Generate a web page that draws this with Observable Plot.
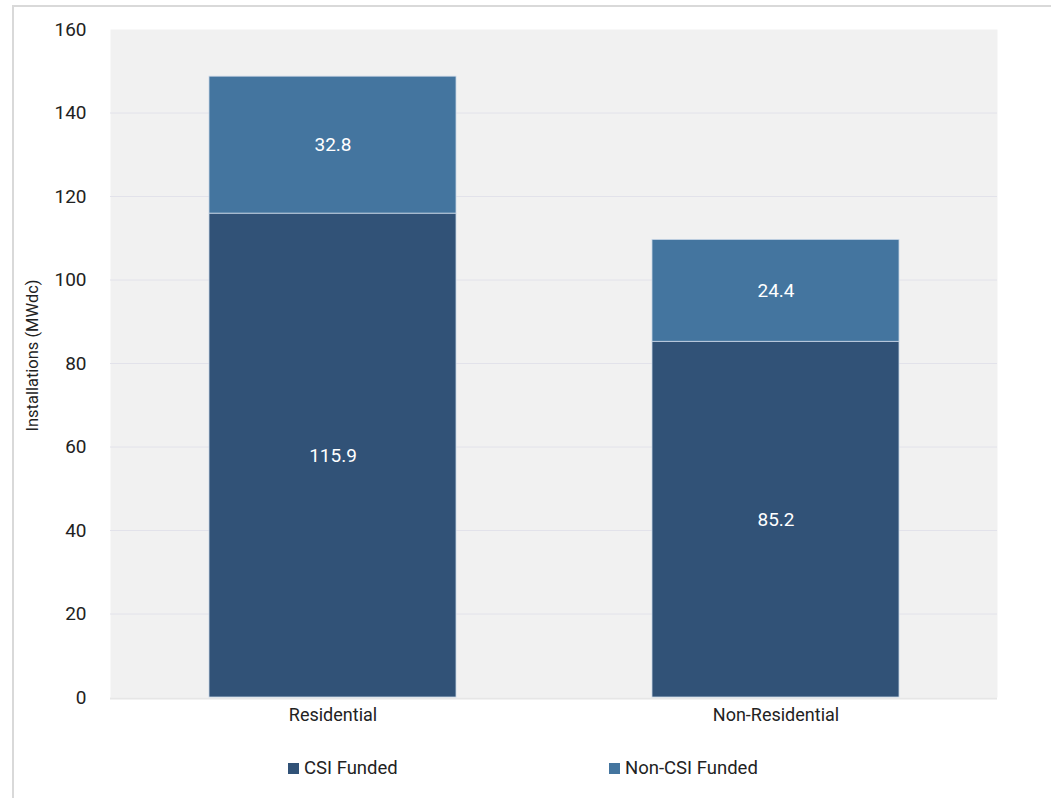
<!DOCTYPE html>
<html>
<head>
<meta charset="utf-8">
<script src="https://cdn.jsdelivr.net/npm/d3@7"></script>
<script src="https://cdn.jsdelivr.net/npm/@observablehq/plot@0.6"></script>
<style>
  html, body { margin: 0; padding: 0; background: #fff; }
  body { width: 1051px; height: 798px; overflow: hidden; position: relative;
         font-family: Roboto, "Liberation Sans", sans-serif; }
  #frame { position: absolute; left: 12px; top: 5px; width: 1100px; height: 900px;
           border-left: 2px solid #d9d9d9; border-top: 2px solid #d9d9d9; }
  #chart { position: absolute; left: 0; top: 0; }
  #legend { position: absolute; top: 757px; left: 0; width: 1051px; height: 24px; }
  .item { position: absolute; display: flex; align-items: center; font-size: 18.5px; color: #222; }
  .sw { width: 11px; height: 11px; margin-right: 5px; }
</style>
</head>
<body>
<div id="frame"></div>
<div id="chart"></div>
<div id="legend"></div>
<script>
// Installed capacity by sector, split by funding source (MWdc)
const sectors = ["Residential", "Non-Residential"];
const series = ["CSI Funded", "Non-CSI Funded"];
const csiFunded = [115.9, 85.2];
const nonCsiFunded = [32.8, 24.4];
const yTicks = [0, 20, 40, 60, 80, 100, 120, 140, 160];
const colors = ["#315277", "#44759f"];

const rows = [];
sectors.forEach((s, i) => {
  rows.push({sector: s, series: series[0], value: csiFunded[i]});
  rows.push({sector: s, series: series[1], value: nonCsiFunded[i]});
});

const stackOpts = {x: "sector", y: "value", z: "series", fill: "series", order: series};

const chart = Plot.plot({
  width: 1051,
  height: 740,
  marginTop: 29,
  marginBottom: 43,
  marginLeft: 110,
  marginRight: 54,
  style: {fontFamily: "Roboto, 'Liberation Sans', sans-serif", background: "transparent"},
  x: {domain: sectors, paddingInner: 0.443, paddingOuter: 0.2215, label: null},
  y: {domain: [0, 160], label: null},
  color: {domain: series, range: colors},
  marks: [
    Plot.frame({fill: "#f1f1f1", stroke: null}),
    Plot.gridY(yTicks.slice(1, -1), {stroke: "#e2e2ea", strokeOpacity: 1, strokeWidth: 1}),
    Plot.ruleY([0], {stroke: "#e6e6e6", strokeWidth: 2, dy: 1}),
    Plot.barY(rows, Plot.stackY({...stackOpts, stroke: "#c9d6e6", strokeWidth: 0.8})),
    // value labels sit at the middle of each stacked segment
    Plot.text(rows, Plot.stackY({...stackOpts, text: d => d.value.toFixed(1), fill: "white", fontSize: 19})),
    Plot.axisY(yTicks, {tickSize: 0, tickPadding: 24, fontSize: 19, fill: "#222", label: null}),
    Plot.axisX({tickSize: 0, tickPadding: 11, fontSize: 18, fill: "#222", label: null}),
    Plot.text(["Installations (MWdc)"], {frameAnchor: "left", textAnchor: "middle", dx: -78, dy: -8, rotate: -90, fontSize: 16.5, fill: "#222"})
  ]
});
document.getElementById("chart").appendChild(chart);

const legend = document.getElementById("legend");
const legendX = [288, 609];
series.forEach((s, i) => {
  const item = document.createElement("div");
  item.className = "item";
  item.style.left = legendX[i] + "px";
  item.innerHTML = `<span class="sw" style="background:${colors[i]}"></span><span>${s}</span>`;
  legend.appendChild(item);
});
</script>
</body>
</html>
